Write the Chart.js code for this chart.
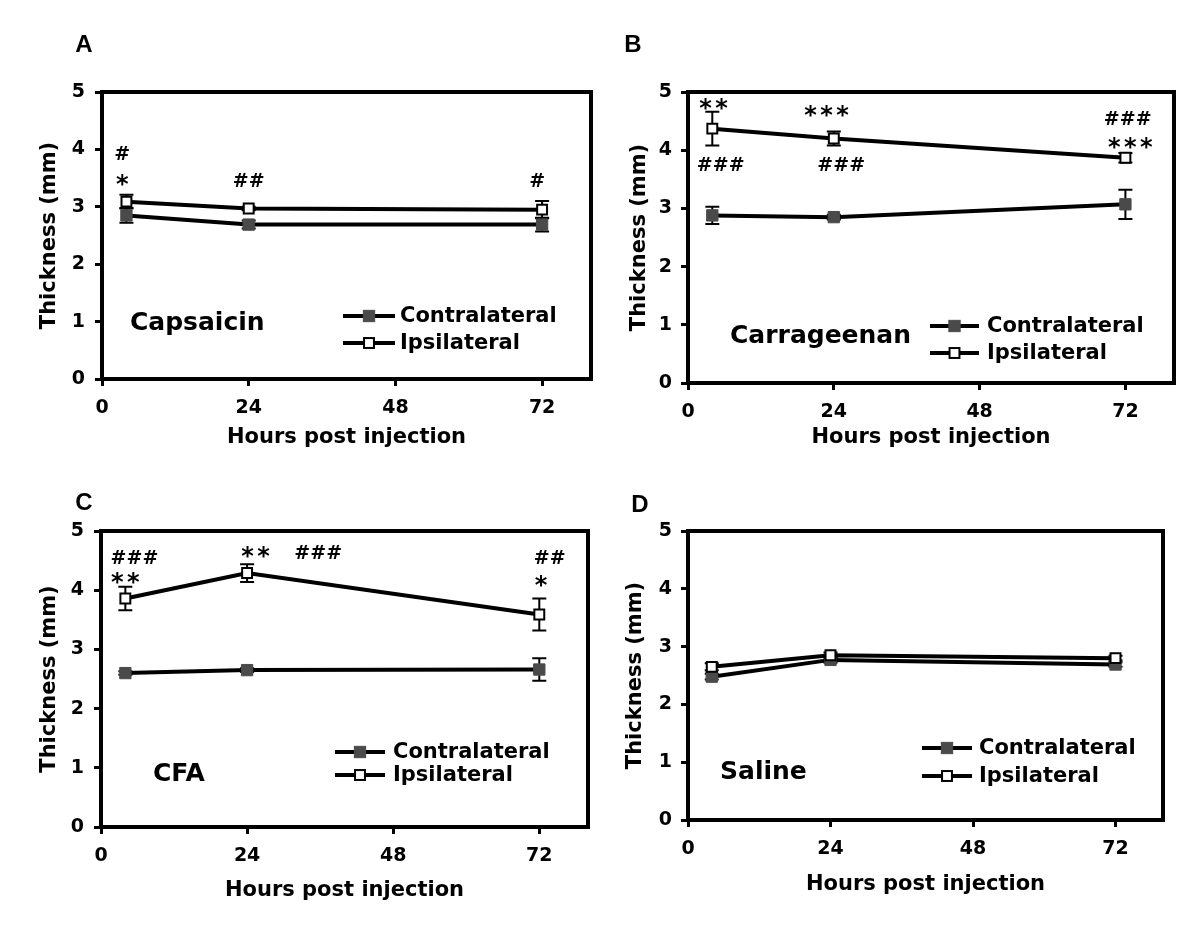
<!DOCTYPE html>
<html>
<head>
<meta charset="utf-8">
<script src="https://cdn.jsdelivr.net/npm/chart.js@4.4.1/dist/chart.umd.min.js"></script>
<style>
  body { margin: 0; background: #fff; width: 1200px; height: 936px; position: relative; overflow: hidden; }
  canvas { position: absolute; }
</style>
</head>
<body>
<canvas id="chartA" width="600" height="440" style="left:0;top:30px"></canvas>
<canvas id="chartB" width="600" height="440" style="left:600px;top:30px"></canvas>
<canvas id="chartC" width="600" height="466" style="left:0;top:470px"></canvas>
<canvas id="chartD" width="600" height="466" style="left:600px;top:470px"></canvas>
<script>
/* data */
var hours = [4, 24, 72];
var xTicks = [0, 24, 48, 72];
var yTicks = [0, 1, 2, 3, 4, 5];
var seriesNames = ['Contralateral', 'Ipsilateral'];

var contraA = [2.85, 2.69, 2.69];
var contraAErr = [0.13, 0.07, 0.12];
var ipsiA = [3.09, 2.97, 2.95];
var ipsiAErr = [0.12, 0.03, 0.15];

var contraB = [2.88, 2.85, 3.07];
var contraBErr = [0.15, 0.04, 0.25];
var ipsiB = [4.37, 4.20, 3.87];
var ipsiBErr = [0.29, 0.12, 0.08];

var contraC = [2.60, 2.65, 2.66];
var contraCErr = [0.03, 0.03, 0.19];
var ipsiC = [3.86, 4.29, 3.59];
var ipsiCErr = [0.20, 0.15, 0.27];

var contraD = [2.48, 2.77, 2.69];
var contraDErr = [0.05, 0.05, 0.04];
var ipsiD = [2.65, 2.85, 2.80];
var ipsiDErr = [0.06, 0.05, 0.04];

/* significance marks: x (hours), y (mm), text */
var marksA = [[3.3, 3.94, '#'], [3.3, 3.47, '*'], [24, 3.46, '##'], [71.2, 3.47, '#']];
var marksB = [[4.2, 4.80, '**'], [22.8, 4.67, '***'], [5.4, 3.77, '###'], [25.2, 3.77, '###'], [72.4, 4.56, '###'], [72.8, 4.12, '***']];
var marksC = [[5.5, 4.56, '###'], [4.0, 4.20, '**'], [25.4, 4.65, '**'], [35.7, 4.65, '###'], [73.7, 4.56, '##'], [72.3, 4.16, '*']];
var marksD = [];

var FONT = "'DejaVu Sans', Verdana, sans-serif";

function pts(vals) {
  return hours.map(function (h, i) { return { x: h, y: vals[i] }; });
}

/* error bars, frame, marks, legend and labels */
var extras = {
  id: 'extras',
  beforeDatasetsDraw: function (chart, args, o) {
    var ctx = chart.ctx, xs = chart.scales.x, ys = chart.scales.y;
    ctx.save();
    ctx.strokeStyle = '#000';
    ctx.lineWidth = 2;
    o.errors.forEach(function (errs, di) {
      chart.data.datasets[di].data.forEach(function (p, i) {
        var px = xs.getPixelForValue(p.x);
        var t = ys.getPixelForValue(p.y + errs[i]);
        var b = ys.getPixelForValue(p.y - errs[i]);
        ctx.beginPath();
        ctx.moveTo(px, t); ctx.lineTo(px, b);
        ctx.moveTo(px - 7, t); ctx.lineTo(px + 7, t);
        ctx.moveTo(px - 7, b); ctx.lineTo(px + 7, b);
        ctx.stroke();
      });
    });
    ctx.restore();
  },
  afterDraw: function (chart, args, o) {
    var ctx = chart.ctx, ca = chart.chartArea, xs = chart.scales.x, ys = chart.scales.y;
    ctx.save();
    // frame
    ctx.strokeStyle = '#000';
    ctx.lineWidth = 4;
    ctx.strokeRect(ca.left, ca.top, ca.right - ca.left, ca.bottom - ca.top);

    // significance marks, one char at a time
    ctx.fillStyle = '#000';
    ctx.textAlign = 'center';
    ctx.textBaseline = 'alphabetic';
    o.marks.forEach(function (m) {
      var cx = xs.getPixelForValue(m[0]), cy = ys.getPixelForValue(m[1]);
      var pitch = 16, n = m[2].length;
      for (var k = 0; k < n; k++) {
        var ch = m[2][k];
        ctx.font = (ch === '*' ? 'bold 24px ' : 'bold 19px ') + FONT;
        var tm = ctx.measureText(ch);
        var base = cy + (tm.actualBoundingBoxAscent - tm.actualBoundingBoxDescent) / 2;
        ctx.fillText(ch, cx + (k - (n - 1) / 2) * pitch, base);
      }
    });

    // legend
    var lg = o.legend;
    ctx.textAlign = 'left';
    ctx.textBaseline = 'middle';
    ctx.font = 'bold 21px ' + FONT;
    chart.data.datasets.forEach(function (ds, i) {
      var ry = lg.rows[i];
      ctx.strokeStyle = '#000';
      ctx.lineWidth = 4;
      ctx.beginPath();
      ctx.moveTo(lg.x1, ry); ctx.lineTo(lg.x2, ry);
      ctx.stroke();
      var mx = (lg.x1 + lg.x2) / 2, s = ds.pointRadius * Math.SQRT1_2;
      ctx.fillStyle = ds.pointBackgroundColor;
      ctx.fillRect(mx - s, ry - s, 2 * s, 2 * s);
      ctx.lineWidth = ds.pointBorderWidth;
      ctx.strokeStyle = ds.pointBorderColor;
      ctx.strokeRect(mx - s, ry - s, 2 * s, 2 * s);
      ctx.fillStyle = '#000';
      ctx.fillText(ds.label, lg.tx, ry + 1);
    });

    // treatment name
    ctx.font = 'bold 25px ' + FONT;
    ctx.fillText(o.name, o.nameX, o.nameY);

    // panel letter
    ctx.font = "bold 24px 'Liberation Sans', Arial, sans-serif";
    ctx.textAlign = 'center';
    ctx.fillText(o.letter, o.letterX, o.letterY);
    ctx.restore();
  }
};

function makeChart(id, contra, contraErr, ipsi, ipsiErr, marks, p) {
  return new Chart(document.getElementById(id), {
    type: 'line',
    data: {
      datasets: [
        {
          label: seriesNames[0],
          data: pts(contra),
          borderColor: '#000',
          borderWidth: 4,
          pointStyle: 'rect',
          pointRadius: 8,
          pointBackgroundColor: '#4a4a4a',
          pointBorderColor: '#4a4a4a',
          pointBorderWidth: 1,
          order: 1
        },
        {
          label: seriesNames[1],
          data: pts(ipsi),
          borderColor: '#000',
          borderWidth: 4,
          pointStyle: 'rect',
          pointRadius: 7,
          pointBackgroundColor: '#fff',
          pointBorderColor: '#000',
          pointBorderWidth: 2,
          order: 0
        }
      ]
    },
    options: {
      responsive: false,
      animation: false,
      events: [],
      layout: { padding: { top: p.top, right: p.right, left: 0, bottom: 0 } },
      plugins: {
        legend: { display: false },
        tooltip: { enabled: false },
        extras: {
          errors: [contraErr, ipsiErr],
          marks: marks,
          legend: p.legend,
          name: p.name, nameX: p.nameX, nameY: p.nameY,
          letter: p.letter, letterX: p.letterX, letterY: p.letterY
        }
      },
      scales: {
        x: {
          type: 'linear',
          min: 0,
          max: 80,
          afterBuildTicks: function (s) { s.ticks = xTicks.map(function (v) { return { value: v }; }); },
          afterFit: function (s) { s.height = p.xHeight; },
          border: { display: false },
          grid: { drawOnChartArea: false, drawTicks: true, tickLength: 7, tickWidth: 3, tickColor: '#000', color: '#000' },
          ticks: { color: '#000', padding: 11, maxRotation: 0, font: { family: FONT, size: 19, weight: 'bold' } },
          title: { display: true, text: 'Hours post injection', color: '#000', padding: { top: 0, bottom: p.xTitlePad }, font: { family: FONT, size: 21, weight: 'bold' } }
        },
        y: {
          min: 0,
          max: 5,
          afterBuildTicks: function (s) { s.ticks = yTicks.map(function (v) { return { value: v }; }); },
          afterFit: function (s) { s.width = p.yWidth; },
          border: { display: false },
          grid: { drawOnChartArea: false, drawTicks: true, tickLength: 7, tickWidth: 3, tickColor: '#000', color: '#000' },
          ticks: { color: '#000', padding: p.yTickPad, font: { family: FONT, size: 19, weight: 'bold' } },
          title: { display: true, text: 'Thickness (mm)', color: '#000', padding: { top: p.yTitlePad, bottom: 0 }, font: { family: FONT, size: 21, weight: 'bold' } }
        }
      }
    },
    plugins: [extras]
  });
}

makeChart('chartA', contraA, contraAErr, ipsiA, ipsiAErr, marksA, {
  top: 62, right: 3, yWidth: 102, xHeight: 91, yTitlePad: 37, xTitlePad: 20, yTickPad: 10,
  legend: { x1: 343, x2: 395, tx: 400, rows: [286, 313] },
  name: 'Capsaicin', nameX: 130, nameY: 293, letter: 'A', letterX: 84, letterY: 15
});
makeChart('chartB', contraB, contraBErr, ipsiB, ipsiBErr, marksB, {
  top: 62, right: 26, yWidth: 88, xHeight: 87, yTitlePad: 27, xTitlePad: 20, yTickPad: 9,
  legend: { x1: 330, x2: 379, tx: 387, rows: [296, 323] },
  name: 'Carrageenan', nameX: 130, nameY: 306, letter: 'B', letterX: 33, letterY: 15
});
makeChart('chartC', contraC, contraCErr, ipsiC, ipsiCErr, marksC, {
  top: 61, right: 12, yWidth: 101, xHeight: 109, yTitlePad: 37, xTitlePad: 33, yTickPad: 10,
  legend: { x1: 335, x2: 385, tx: 393, rows: [282, 305] },
  name: 'CFA', nameX: 153, nameY: 304, letter: 'C', letterX: 84, letterY: 33
});
makeChart('chartD', contraD, contraDErr, ipsiD, ipsiDErr, marksD, {
  top: 61, right: 37, yWidth: 88, xHeight: 116, yTitlePad: 23, xTitlePad: 39, yTickPad: 9,
  legend: { x1: 322, x2: 372, tx: 379, rows: [278, 306] },
  name: 'Saline', nameX: 120, nameY: 302, letter: 'D', letterX: 40, letterY: 35
});
</script>
</body>
</html>
